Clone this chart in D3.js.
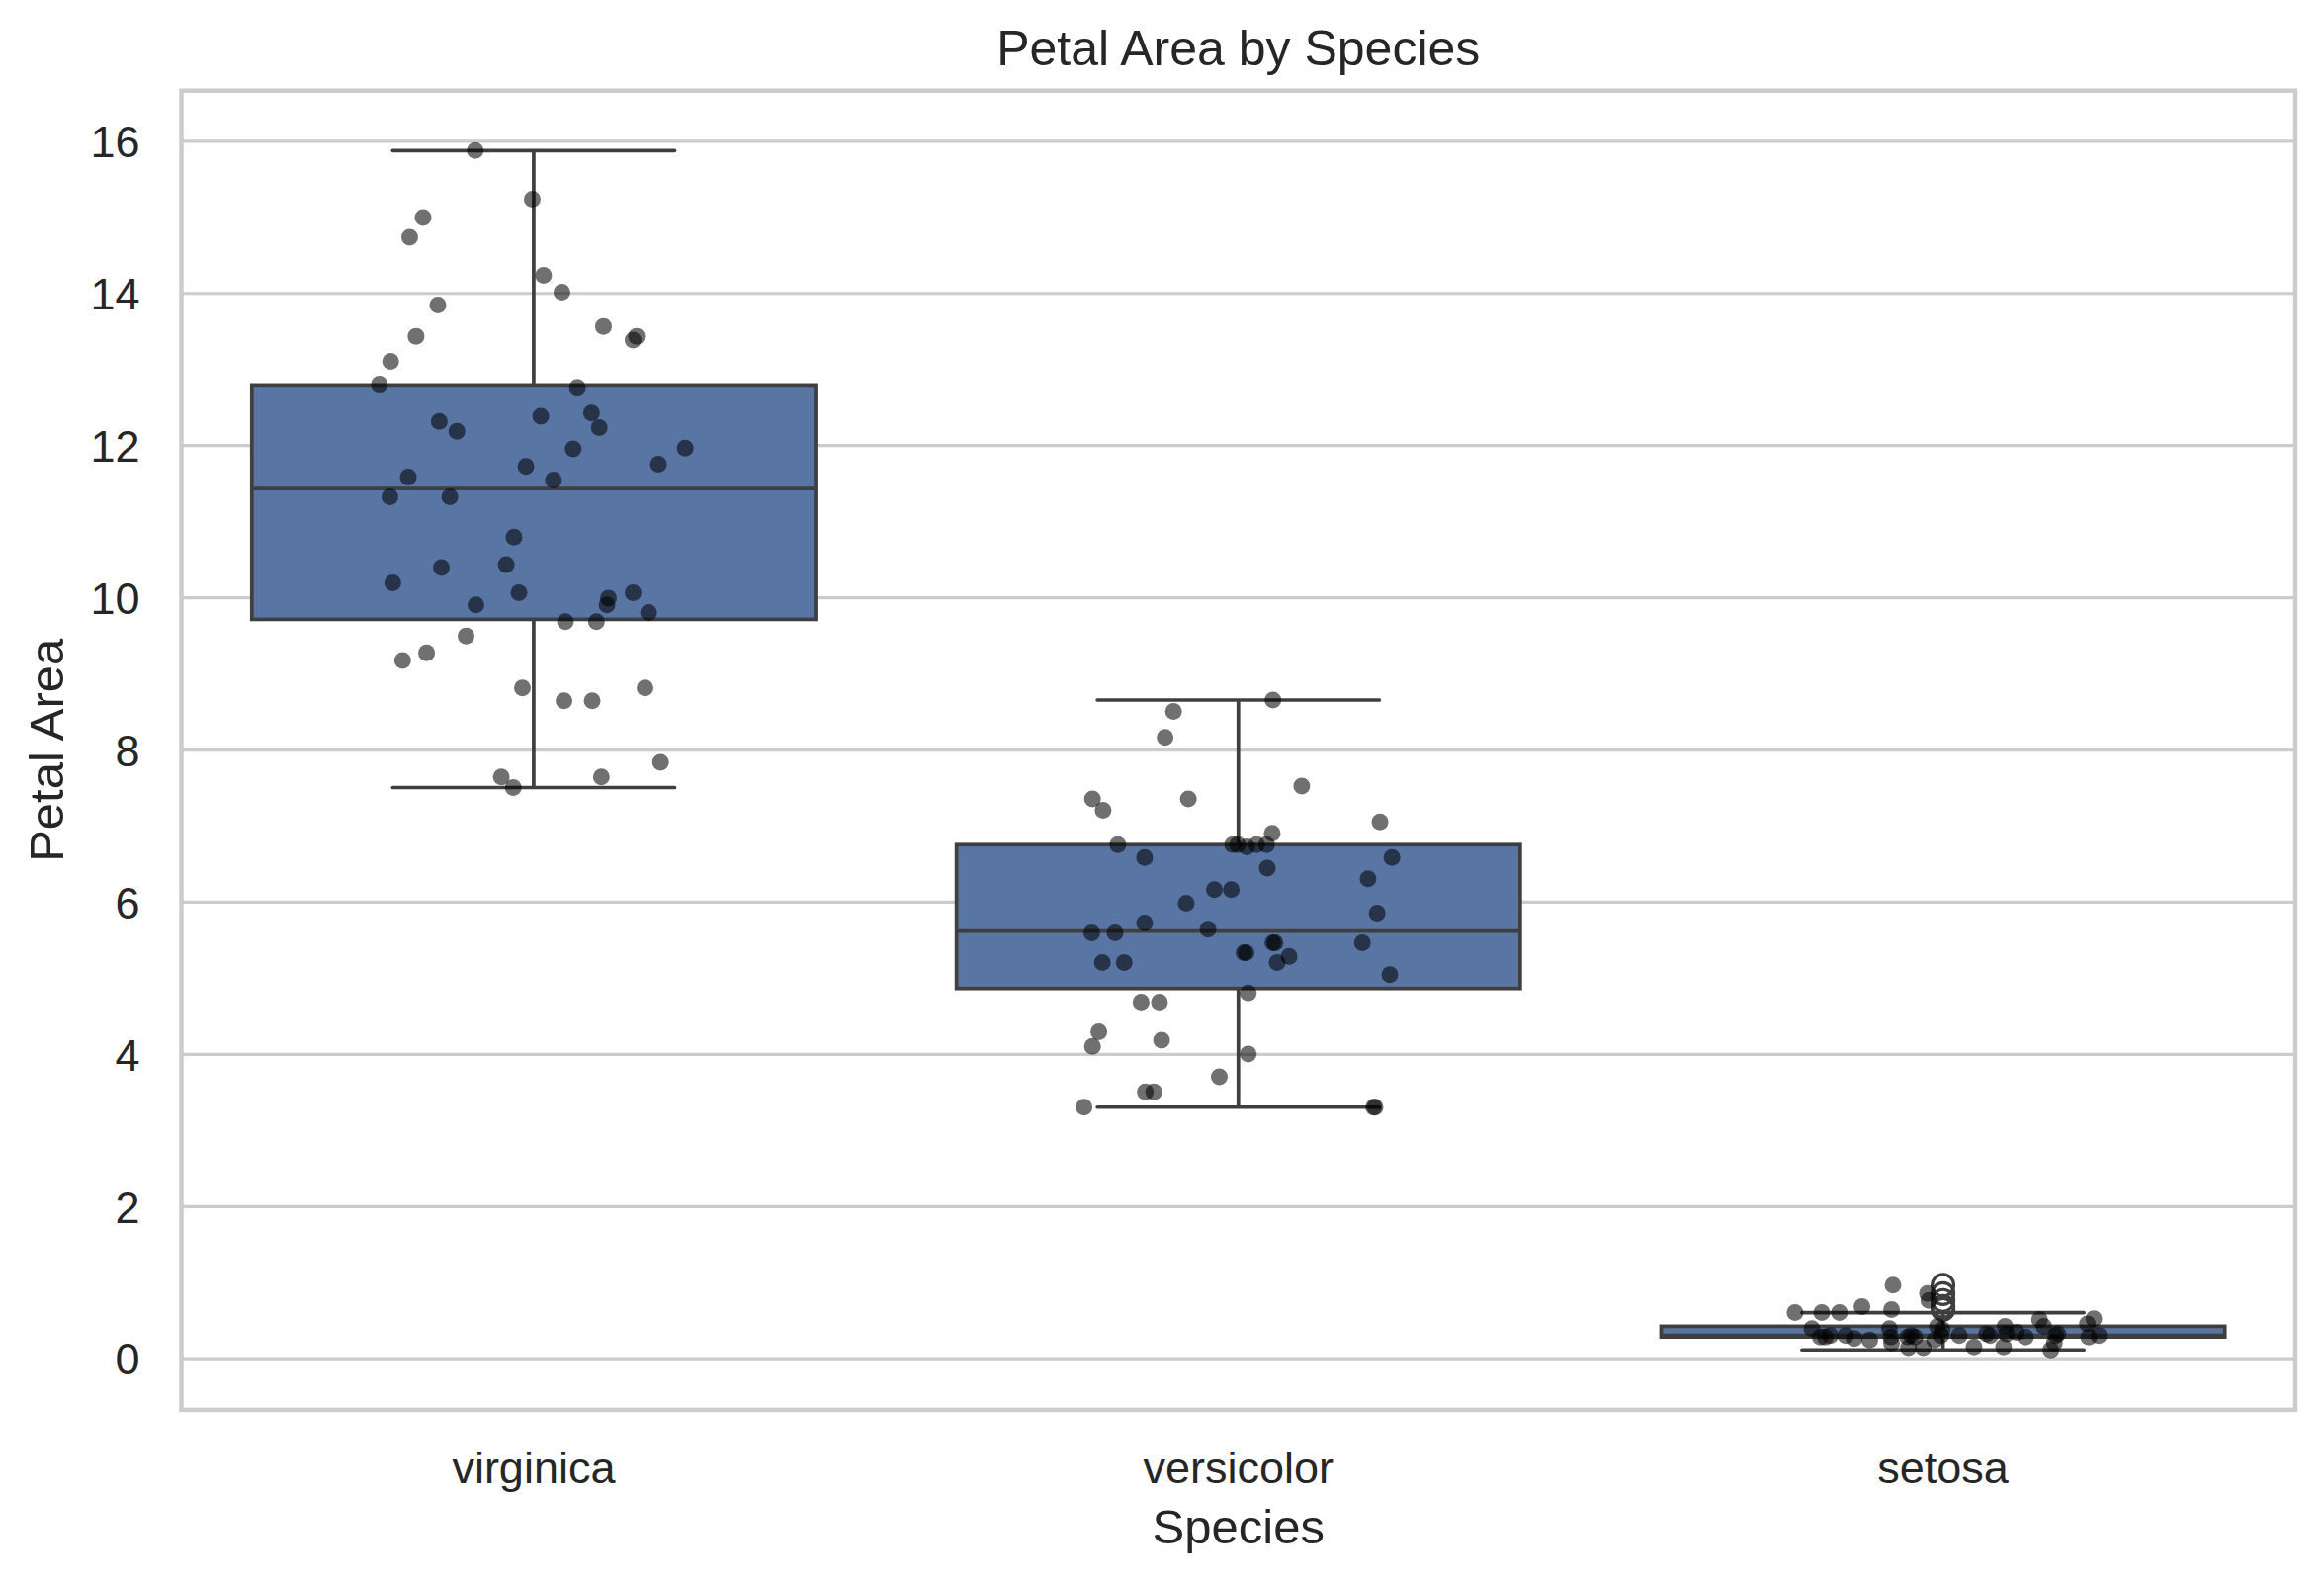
<!DOCTYPE html>
<html>
<head>
<meta charset="utf-8">
<script src="https://cdn.jsdelivr.net/npm/d3@7"></script>
<style>
  body { margin: 0; background: #fff; }
  svg { display: block; font-family: "Liberation Sans", Arial, sans-serif; }
</style>
</head>
<body>
<svg id="chart" width="2351" height="1602"></svg>
<script>
var species = ["virginica", "versicolor", "setosa"];

// petal area per flower
var virginicaArea = [15.87, 15.23, 14.99, 14.73, 14.23, 14.01, 13.84, 13.56, 13.43, 13.43,
	13.38, 13.10, 12.80, 12.76, 12.31, 12.38, 12.42, 12.18, 12.23, 11.95,
	11.96, 11.75, 11.72, 11.58, 11.54, 11.32, 11.32, 10.79, 10.39, 10.43,
	10.19, 10.06, 10.06, 9.99, 9.90, 9.90, 9.80, 9.68, 9.68, 9.49,
	9.27, 9.17, 8.81, 8.81, 8.64, 8.64, 7.83, 7.64, 7.64, 7.50];
var virginicaJitter = [-0.083, -0.002, -0.157, -0.176, 0.014, 0.040, -0.136, 0.099, -0.167, 0.146,
	0.141, -0.203, -0.219, 0.062, -0.134, 0.010, 0.082, -0.109, 0.093, 0.056,
	0.215, 0.177, -0.011, -0.178, 0.028, -0.204, -0.119, -0.028, -0.131, -0.039,
	-0.200, -0.021, 0.141, 0.106, 0.104, -0.082, 0.163, 0.045, 0.089, -0.096,
	-0.152, -0.186, -0.016, 0.158, 0.043, 0.083, 0.180, -0.046, 0.096, -0.029];

var versicolorArea = [8.65, 8.50, 8.16, 7.35, 7.35, 7.52, 7.20, 7.05, 6.90, 6.75,
	6.75, 6.72, 6.75, 6.75, 6.75, 6.58, 6.58, 6.44, 6.30, 6.16,
	6.16, 5.98, 5.85, 5.72, 5.64, 5.59, 5.59, 5.46, 5.46, 5.46,
	5.33, 5.33, 5.28, 5.20, 5.20, 5.20, 5.04, 4.80, 4.68, 4.68,
	4.29, 4.10, 4.18, 4.00, 3.70, 3.50, 3.50, 3.30, 3.30, 3.30];
var versicolorJitter = [0.049, -0.092, -0.104, -0.207, -0.071, 0.090, -0.192, 0.201, 0.048, -0.171,
	-0.001, 0.012, 0.026, 0.040, -0.008, -0.133, 0.218, 0.041, 0.184, -0.034,
	-0.010, -0.074, 0.197, -0.133, -0.043, -0.208, -0.175, 0.049, 0.052, 0.176,
	0.008, 0.011, 0.072, -0.193, -0.162, 0.055, 0.215, 0.014, -0.138, -0.112,
	-0.198, -0.207, -0.109, 0.014, -0.027, -0.132, -0.120, -0.219, 0.192, 0.194];

var setosaArea = [0.60, 0.60, 0.60, 0.68, 0.96, 0.64, 0.85, 0.76, 0.39, 0.28,
	0.28, 0.30, 0.30, 0.26, 0.24, 0.39, 0.28, 0.20, 0.28, 0.30,
	0.14, 0.14, 0.28, 0.24, 0.42, 0.38, 0.30, 0.30, 0.15, 0.32,
	0.30, 0.42, 0.32, 0.15, 0.34, 0.28, 0.51, 0.42, 0.30, 0.32,
	0.20, 0.11, 0.45, 0.52, 0.28, 0.30];
var setosaJitter = [-0.210, -0.172, -0.147, -0.115, -0.071, -0.073, -0.022, -0.020, -0.186, -0.174,
	-0.167, -0.160, -0.138, -0.126, -0.104, -0.076, -0.074, -0.073, -0.050, -0.045,
	-0.049, -0.028, -0.040, -0.012, -0.008, -0.001, -0.003, 0.023, 0.044, 0.062,
	0.067, 0.088, 0.090, 0.086, 0.104, 0.117, 0.137, 0.143, 0.160, 0.163,
	0.158, 0.153, 0.205, 0.214, 0.207, 0.221];

var yTicks = [0, 2, 4, 6, 8, 10, 12, 14, 16];

var groups = [
	{name: "virginica", values: virginicaArea, jitter: virginicaJitter},
	{name: "versicolor", values: versicolorArea, jitter: versicolorJitter},
	{name: "setosa", values: setosaArea, jitter: setosaJitter}
];

var plot = {left: 183.5, right: 2322, top: 91.7, bottom: 1425.9};
var boxFill = "#5875a4", lineCol = "#3f3f3f", gridCol = "#cccccc", textCol = "#262626";
var tickSize = 45, labelSize = 49;

var svg = d3.select("#chart");

var allVals = d3.merge(groups.map(function(g) { return g.values; }));
var lo = d3.min(allVals), hi = d3.max(allVals), pad = (hi - lo) * 0.05;

var y = d3.scaleLinear()
	.domain([lo - pad, hi + pad])
	.range([plot.bottom, plot.top]);

var x = d3.scaleBand()
	.domain(species)
	.range([plot.left, plot.right])
	.padding(0);

var bw = x.bandwidth();

// horizontal grid
var yAxis = d3.axisLeft(y).tickValues(yTicks).tickSize(-(plot.right - plot.left)).tickPadding(42);
var gy = svg.append("g")
	.attr("transform", "translate(" + plot.left + ",0)")
	.call(yAxis);
gy.select(".domain").remove();
gy.selectAll(".tick line").attr("stroke", gridCol).attr("stroke-width", 3.2);
gy.selectAll(".tick text")
	.attr("fill", textCol)
	.attr("font-size", tickSize)
	.attr("dy", "0.36em");

var xAxis = d3.axisBottom(x).tickSize(0).tickPadding(0);
var gx = svg.append("g")
	.attr("transform", "translate(0," + plot.bottom + ")")
	.call(xAxis);
gx.select(".domain").remove();
gx.selectAll(".tick text")
	.attr("fill", textCol)
	.attr("font-size", tickSize)
	.attr("dy", null)
	.attr("y", 74);

// box stats
groups.forEach(function(g) {
	var s = g.values.slice().sort(d3.ascending);
	var q1 = d3.quantile(s, 0.25), med = d3.quantile(s, 0.5), q3 = d3.quantile(s, 0.75);
	var iqr = q3 - q1;
	var lowIn = s.filter(function(v) { return v >= q1 - 1.5 * iqr; });
	var highIn = s.filter(function(v) { return v <= q3 + 1.5 * iqr; });
	g.q1 = q1; g.med = med; g.q3 = q3;
	g.wlo = d3.min(lowIn); g.whi = d3.max(highIn);
	g.fliers = s.filter(function(v) { return v < g.wlo || v > g.whi; });
});

var box = svg.append("g").selectAll("g")
	.data(groups)
	.enter().append("g");

box.each(function(g) {
	var el = d3.select(this);
	var cx = x(g.name) + bw / 2;
	var half = bw * 0.4;
	var cap = bw * 0.2;

	el.append("line")
		.attr("x1", cx).attr("x2", cx)
		.attr("y1", y(g.q3)).attr("y2", y(g.whi))
		.attr("stroke", lineCol).attr("stroke-width", 3.7);
	el.append("line")
		.attr("x1", cx).attr("x2", cx)
		.attr("y1", y(g.q1)).attr("y2", y(g.wlo))
		.attr("stroke", lineCol).attr("stroke-width", 3.7);

	el.append("rect")
		.attr("x", cx - half)
		.attr("y", y(g.q3))
		.attr("width", half * 2)
		.attr("height", y(g.q1) - y(g.q3))
		.attr("fill", boxFill)
		.attr("stroke", lineCol)
		.attr("stroke-width", 3.7);

	el.append("line")
		.attr("x1", cx - half).attr("x2", cx + half)
		.attr("y1", y(g.med)).attr("y2", y(g.med))
		.attr("stroke", lineCol).attr("stroke-width", 3.7);

	[g.whi, g.wlo].forEach(function(v) {
		el.append("line")
			.attr("x1", cx - cap).attr("x2", cx + cap)
			.attr("y1", y(v)).attr("y2", y(v))
			.attr("stroke", lineCol).attr("stroke-width", 3.7)
			.attr("stroke-linecap", "round");
	});

	el.selectAll("circle.flier")
		.data(g.fliers)
		.enter().append("circle")
		.attr("class", "flier")
		.attr("cx", cx)
		.attr("cy", function(v) { return y(v); })
		.attr("r", 11)
		.attr("fill", "none")
		.attr("stroke", lineCol)
		.attr("stroke-width", 3.2);
});

// strip dots
var dots = [];
groups.forEach(function(g) {
	g.values.forEach(function(v, i) {
		dots.push({name: g.name, v: v, j: g.jitter[i]});
	});
});

svg.append("g").selectAll("circle")
	.data(dots)
	.enter().append("circle")
	.attr("cx", function(d) { return x(d.name) + bw / 2 + d.j * bw; })
	.attr("cy", function(d) { return y(d.v); })
	.attr("r", 8.5)
	.attr("fill", "#000")
	.attr("fill-opacity", 0.56);

// frame
svg.append("rect")
	.attr("x", plot.left)
	.attr("y", plot.top)
	.attr("width", plot.right - plot.left)
	.attr("height", plot.bottom - plot.top)
	.attr("fill", "none")
	.attr("stroke", gridCol)
	.attr("stroke-width", 4.5);

// labels
svg.append("text")
	.attr("x", (plot.left + plot.right) / 2)
	.attr("y", 65.7)
	.attr("text-anchor", "middle")
	.attr("font-size", 50)
	.attr("fill", textCol)
	.text("Petal Area by Species");

svg.append("text")
	.attr("x", (plot.left + plot.right) / 2)
	.attr("y", 1560.7)
	.attr("text-anchor", "middle")
	.attr("font-size", labelSize)
	.attr("fill", textCol)
	.text("Species");

svg.append("text")
	.attr("transform", "translate(64.3," + (plot.top + plot.bottom) / 2 + ") rotate(-90)")
	.attr("text-anchor", "middle")
	.attr("font-size", labelSize)
	.attr("fill", textCol)
	.text("Petal Area");
</script>
</body>
</html>
